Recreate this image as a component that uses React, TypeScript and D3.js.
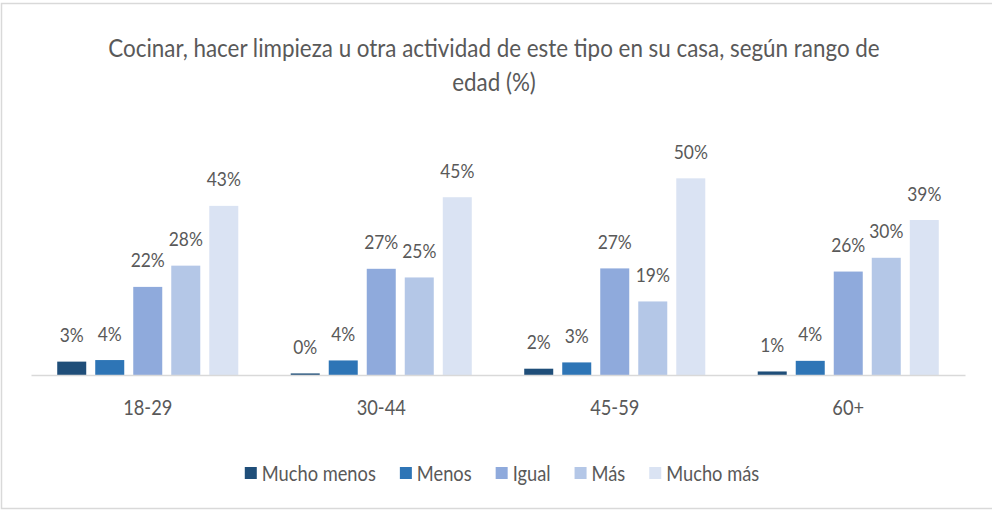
import React, { useEffect, useRef } from 'react'
import * as d3 from 'd3'

const groups = ['18-29', '30-44', '45-59', '60+']
const seriesNames = ['Mucho menos', 'Menos', 'Igual', 'Más', 'Mucho más']
const muchoMenos = [3.4, 0.4, 1.6, 0.9]
const menos = [3.8, 3.7, 3.2, 3.6]
const igual = [22.4, 27.0, 27.1, 26.3]
const mas = [27.8, 24.8, 18.7, 29.8]
const muchoMas = [43.0, 45.2, 50.0, 39.4]
const colors = ['#1F4E79', '#2E75B6', '#8FAADC', '#B4C7E7', '#DAE3F3']
const titleLines = [
  'Cocinar, hacer limpieza u otra actividad de este tipo en su casa, según rango de',
  'edad (%)',
]

const FONT = 'Lato, "Open Sans", sans-serif'
const TEXT = '#595959'

export default function App() {
  const ref = useRef<SVGSVGElement>(null)

  const drawChart = () => {
    const width = 992
    const height = 510
    const kx = 0.87
    const svg = d3.select(ref.current)
    svg.selectAll('*').remove()
    svg.attr('width', width).attr('height', height)

    // chart border (right edge is cut off in the original)
    svg.append('rect')
      .attr('x', 1.5).attr('y', 3.5)
      .attr('width', width + 10).attr('height', 505)
      .attr('fill', '#fff')
      .attr('stroke', '#D9D9D9')
      .attr('stroke-width', 1.5)

    const series = [muchoMenos, menos, igual, mas, muchoMas]
    const data = groups.map((g, gi) => ({
      group: g,
      values: seriesNames.map((s, si) => ({ key: s, idx: si, value: series[si][gi] })),
    }))

    const x0 = d3.scaleBand().domain(groups).range([31, 965])
    const x1 = d3.scaleBand()
      .domain(seriesNames)
      .range([0, x0.bandwidth()])
      .paddingInner(0.237)
      .paddingOuter(0.69)
    const y = d3.scaleLinear().domain([0, 60]).range([375, 139])
    const fmt = d3.format('.0f')

    // title
    const title = svg.append('g')
      .attr('font-family', FONT)
      .attr('font-size', 25)
      .attr('fill', TEXT)
      .attr('text-anchor', 'middle')
    const t1 = title.append('text').text(titleLines[0])
    const len = (t1.node() as SVGTextElement).getComputedTextLength()
    const kt = len > 0 ? 772 / len : kx
    t1.attr('transform', `translate(494,57) scale(${kt},1)`)
    title.append('text').text(titleLines[1])
      .attr('transform', `translate(494,91) scale(${kt},1)`)

    // bars
    const grp = svg.append('g')
      .selectAll('g')
      .data(data)
      .join('g')
      .attr('transform', d => `translate(${x0(d.group)},0)`)

    grp.selectAll('rect')
      .data(d => d.values)
      .join('rect')
      .attr('x', d => x1(d.key) as number)
      .attr('y', d => y(d.value))
      .attr('width', x1.bandwidth())
      .attr('height', d => y(0) - y(d.value))
      .attr('fill', d => colors[d.idx])

    grp.selectAll('text')
      .data(d => d.values)
      .join('text')
      .attr('font-family', FONT)
      .attr('font-size', 20)
      .attr('fill', TEXT)
      .attr('text-anchor', 'middle')
      .attr('transform', d => `translate(${(x1(d.key) as number) + x1.bandwidth() / 2},${y(d.value) - 19.5}) scale(${kx},1)`)
      .text(d => fmt(d.value) + '%')

    // x axis
    svg.append('g')
      .attr('transform', `translate(0,${y(0)})`)
      .call(d3.axisBottom(x0).tickSize(0))
      .call(g => g.select('.domain').attr('stroke', '#D9D9D9').attr('stroke-width', 1.5))
      .call(g => g.selectAll('.tick text')
        .attr('font-family', FONT)
        .attr('font-size', 21)
        .attr('fill', TEXT)
        .attr('y', 40)
        .attr('dy', null)
        .attr('transform', `scale(${kx},1)`))

    // legend
    const legend = svg.append('g')
      .attr('font-family', FONT)
      .attr('font-size', 21)
      .attr('fill', TEXT)
    let cx = 0
    const items: { g: any; w: number }[] = []
    seriesNames.forEach((s, i) => {
      const g = legend.append('g')
      g.append('rect')
        .attr('x', 0).attr('y', -6)
        .attr('width', 12).attr('height', 12)
        .attr('fill', colors[i])
      const t = g.append('text').text(s)
      const w = (t.node() as SVGTextElement).getComputedTextLength() * kx
      t.attr('transform', `translate(17,7.5) scale(${kx},1)`)
      g.attr('transform', `translate(${cx},0)`)
      items.push({ g, w })
      cx += 17 + w + 24
    })
    const total = cx - 24
    legend.attr('transform', `translate(${502 - total / 2},473)`)
  }

  useEffect(() => {
    drawChart()
  }, [])

  return (
    <svg ref={ref} style={{ position: 'absolute', left: 0, top: 0, display: 'block' }} />
  )
}
